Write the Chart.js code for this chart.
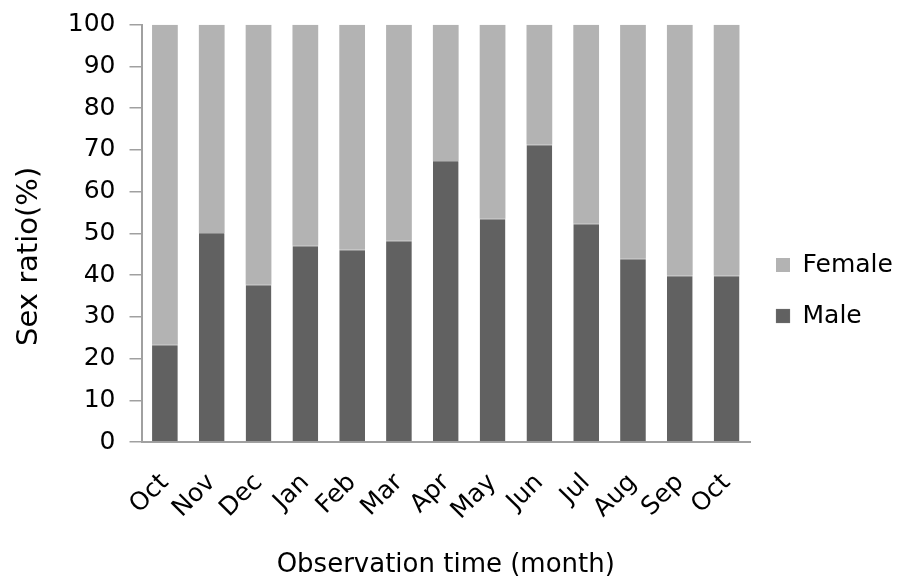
<!DOCTYPE html>
<html>
<head>
<meta charset="utf-8">
<script src="https://cdn.jsdelivr.net/npm/chart.js@4.4.0/dist/chart.umd.min.js"></script>
<style>
  html, body { margin: 0; padding: 0; background: #fff; }
  #wrap { width: 900px; height: 581px; }
</style>
</head>
<body>
<div id="wrap"><canvas id="myChart"></canvas></div>
<script>
  // Months of observation
  const months = ['Oct', 'Nov', 'Dec', 'Jan', 'Feb', 'Mar', 'Apr', 'May', 'Jun', 'Jul', 'Aug', 'Sep', 'Oct']
  // Sex ratio (%)
  const male = [23.3, 50.1, 37.7, 47.0, 46.1, 48.2, 67.3, 53.5, 71.3, 52.3, 43.9, 39.9, 39.9]
  const female = [76.7, 49.9, 62.3, 53.0, 53.9, 51.8, 32.7, 46.5, 28.7, 47.7, 56.1, 60.1, 60.1]
  const yTicks = [0, 10, 20, 30, 40, 50, 60, 70, 80, 90, 100]

  Chart.defaults.font.family = '"DejaVu Sans", Verdana, sans-serif'
  Chart.defaults.color = '#000'

  const ctx = document.getElementById('myChart')
  // eslint-disable-next-line no-unused-vars
  const myChart = new Chart(ctx, {
    type: 'bar',
    data: {
      labels: months,
      datasets: [{
        label: 'Male',
        data: male,
        backgroundColor: '#616161',
        borderColor: '#8c8c8c',
        borderWidth: { top: 1, left: 0, right: 0, bottom: 0 },
        borderSkipped: false
      }, {
        label: 'Female',
        data: female,
        backgroundColor: '#b3b3b3',
        borderWidth: 0
      }]
    },
    options: {
      responsive: true,
      maintainAspectRatio: false,
      animation: false,
      layout: {
        padding: { top: 0, left: 12, right: 0, bottom: 0 }
      },
      datasets: {
        bar: { categoryPercentage: 1, barPercentage: 0.55 }
      },
      scales: {
        x: {
          stacked: true,
          grid: { display: false },
          border: { display: true, color: '#a0a0a0', width: 2 },
          ticks: {
            autoSkip: false,
            minRotation: 45,
            maxRotation: 45,
            padding: 18,
            font: { size: 25 }
          },
          title: {
            display: true,
            text: 'Observation time (month)',
            font: { size: 26 },
            padding: { top: 6, bottom: 0 }
          }
        },
        y: {
          stacked: true,
          min: 0,
          max: 100,
          afterBuildTicks: axis => {
            axis.ticks = yTicks.map(v => ({ value: v }))
          },
          grid: {
            drawOnChartArea: false,
            tickLength: 12,
            tickColor: '#a0a0a0',
            lineWidth: 1.5
          },
          border: { display: true, color: '#a0a0a0', width: 2 },
          ticks: {
            padding: 14,
            font: { size: 25, lineHeight: 0.85 }
          },
          title: {
            display: true,
            // trailing spaces push the visible words down, as in the original
            text: 'Sex ratio(%)     ',
            font: { size: 29 },
            padding: { top: 0, bottom: 7 }
          }
        }
      },
      plugins: {
        legend: {
          position: 'right',
          reverse: true,
          maxWidth: 150,
          labels: {
            boxWidth: 14,
            boxHeight: 14,
            padding: 26,
            font: { size: 25 }
          }
        },
        tooltip: { enabled: false }
      }
    }
  })
</script>
</body>
</html>
